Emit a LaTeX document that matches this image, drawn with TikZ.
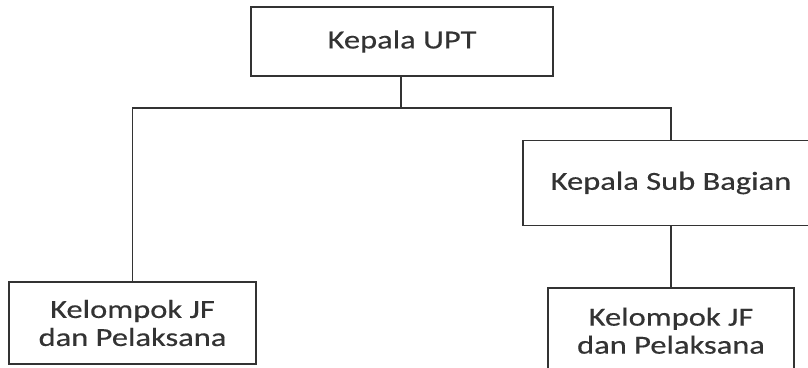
\documentclass[tikz,border=0pt]{standalone}
\usepackage{fontspec}
\setmainfont{Carlito}[FakeStretch=1.25, FakeBold=0.4]
\begin{document}
\begin{tikzpicture}[x=1pt,y=-1pt,
  unit/.style={draw=black!80, line width=1.8pt, fill=white, text=black!80,
    font=\fontsize{26}{28}\selectfont, align=center, inner sep=0pt},
  link/.style={draw=black!80, line width=1.8pt}]
  \useasboundingbox (0,0) rectangle (808,367);
  \clip (0,0) rectangle (808,367);

  % boxes
  \node[unit, minimum width=302pt, minimum height=69pt] (upt) at (402,41.5) {Kepala UPT};
  \node[unit, minimum width=296pt, minimum height=85pt] (sub) at (671,183) {Kepala Sub Bagian};
  \node[unit, minimum width=247pt, minimum height=82pt] (jfl) at (132.5,323) {Kelompok JF\\dan Pelaksana};
  \node[unit, minimum width=246pt, minimum height=86pt] (jfr) at (671,330.7) {Kelompok JF\\dan Pelaksana};

  % connectors
  \coordinate (bus) at (401,108);
  \draw[link] (upt.south -| bus) -- (bus);
  \draw[link] (jfl.north) |- (bus) -| (sub.north);
  \draw[link] (sub.south) -- (jfr.north);
\end{tikzpicture}
\end{document}
